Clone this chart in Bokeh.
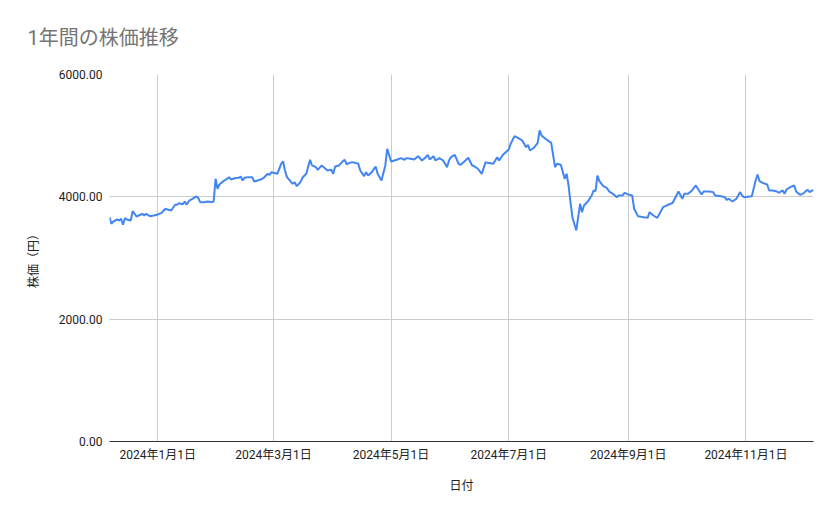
import pandas as pd
from bokeh.plotting import figure
from bokeh.models import ColumnDataSource, FixedTicker, PrintfTickFormatter, Range1d
from bokeh.embed import file_html
from bokeh.resources import INLINE

TITLE = "1年間の株価推移"
X_LABEL = "日付"
Y_LABEL = "株価（円）"

DATES = [
    "2023-12-07", "2023-12-08", "2023-12-09", "2023-12-10", "2023-12-11", "2023-12-12",
    "2023-12-13", "2023-12-14", "2023-12-15", "2023-12-16", "2023-12-18", "2023-12-19",
    "2023-12-21", "2023-12-23", "2023-12-24", "2023-12-25", "2023-12-26", "2023-12-28",
    "2023-12-30", "2024-01-01", "2024-01-03", "2024-01-05", "2024-01-06", "2024-01-08",
    "2024-01-10", "2024-01-11", "2024-01-12", "2024-01-14", "2024-01-15", "2024-01-16",
    "2024-01-17", "2024-01-18", "2024-01-19", "2024-01-21", "2024-01-22", "2024-01-23",
    "2024-01-25", "2024-01-27", "2024-01-29", "2024-01-30", "2024-01-31", "2024-02-01",
    "2024-02-02", "2024-02-04", "2024-02-06", "2024-02-07", "2024-02-08", "2024-02-10",
    "2024-02-12", "2024-02-13", "2024-02-14", "2024-02-15", "2024-02-17", "2024-02-19",
    "2024-02-20", "2024-02-23", "2024-02-25", "2024-02-27", "2024-02-28", "2024-02-29",
    "2024-03-01", "2024-03-03", "2024-03-05", "2024-03-06", "2024-03-07", "2024-03-08",
    "2024-03-11", "2024-03-12", "2024-03-13", "2024-03-15", "2024-03-16", "2024-03-18",
    "2024-03-20", "2024-03-21", "2024-03-23", "2024-03-24", "2024-03-26", "2024-03-28",
    "2024-03-29", "2024-03-31", "2024-04-01", "2024-04-02", "2024-04-04", "2024-04-06",
    "2024-04-07", "2024-04-08", "2024-04-09", "2024-04-11", "2024-04-14", "2024-04-15",
    "2024-04-17", "2024-04-18", "2024-04-19", "2024-04-21", "2024-04-23", "2024-04-24",
    "2024-04-26", "2024-04-28", "2024-04-29", "2024-05-01", "2024-05-04", "2024-05-06",
    "2024-05-08", "2024-05-09", "2024-05-11", "2024-05-13", "2024-05-15", "2024-05-17",
    "2024-05-19", "2024-05-20", "2024-05-21", "2024-05-23", "2024-05-24", "2024-05-26",
    "2024-05-28", "2024-05-30", "2024-05-31", "2024-06-01", "2024-06-03", "2024-06-05",
    "2024-06-06", "2024-06-08", "2024-06-10", "2024-06-12", "2024-06-13", "2024-06-15",
    "2024-06-17", "2024-06-19", "2024-06-20", "2024-06-23", "2024-06-25", "2024-06-26",
    "2024-06-28", "2024-07-01", "2024-07-02", "2024-07-04", "2024-07-06", "2024-07-08",
    "2024-07-10", "2024-07-11", "2024-07-12", "2024-07-14", "2024-07-16", "2024-07-17",
    "2024-07-18", "2024-07-20", "2024-07-23", "2024-07-25", "2024-07-26", "2024-07-28",
    "2024-07-30", "2024-07-31", "2024-08-01", "2024-08-02", "2024-08-03", "2024-08-05",
    "2024-08-06", "2024-08-07", "2024-08-08", "2024-08-09", "2024-08-11", "2024-08-13",
    "2024-08-14", "2024-08-15", "2024-08-16", "2024-08-17", "2024-08-19", "2024-08-21",
    "2024-08-22", "2024-08-24", "2024-08-26", "2024-08-27", "2024-08-29", "2024-08-30",
    "2024-09-01", "2024-09-03", "2024-09-04", "2024-09-06", "2024-09-09", "2024-09-11",
    "2024-09-12", "2024-09-14", "2024-09-16", "2024-09-19", "2024-09-21", "2024-09-22",
    "2024-09-24", "2024-09-27", "2024-09-29", "2024-09-30", "2024-10-02", "2024-10-04",
    "2024-10-06", "2024-10-09", "2024-10-10", "2024-10-13", "2024-10-15", "2024-10-16",
    "2024-10-19", "2024-10-21", "2024-10-22", "2024-10-23", "2024-10-25", "2024-10-27",
    "2024-10-29", "2024-10-30", "2024-10-31", "2024-11-04", "2024-11-06", "2024-11-07",
    "2024-11-08", "2024-11-10", "2024-11-12", "2024-11-13", "2024-11-15", "2024-11-17",
    "2024-11-18", "2024-11-20", "2024-11-21", "2024-11-22", "2024-11-24", "2024-11-26",
    "2024-11-27", "2024-11-29", "2024-12-01", "2024-12-02", "2024-12-03", "2024-12-04",
    "2024-12-06",
]

PRICES = [
    3667, 3559, 3597, 3613, 3630, 3613,
    3641, 3543, 3651, 3630, 3613, 3765,
    3679, 3707, 3723, 3695, 3723, 3684,
    3695, 3712, 3739, 3805, 3793, 3777,
    3870, 3870, 3896, 3880, 3924, 3870,
    3924, 3951, 3968, 4006, 3984, 3913,
    3913, 3924, 3913, 3924, 4295, 4132,
    4202, 4256, 4295, 4322, 4284, 4305,
    4311, 4333, 4267, 4311, 4322, 4322,
    4251, 4279, 4311, 4377, 4360, 4404,
    4393, 4377, 4540, 4578, 4431, 4322,
    4213, 4240, 4174, 4240, 4311, 4377,
    4606, 4513, 4485, 4442, 4513, 4459,
    4431, 4442, 4377, 4496, 4513, 4583,
    4606, 4529, 4551, 4567, 4540, 4431,
    4338, 4404, 4349, 4404, 4496, 4377,
    4267, 4513, 4786, 4578, 4606, 4633,
    4606, 4633, 4622, 4611, 4665, 4594,
    4649, 4687, 4611, 4665, 4594, 4633,
    4594, 4485, 4594, 4649, 4687, 4540,
    4524, 4578, 4638, 4513, 4502, 4459,
    4377, 4567, 4556, 4540, 4649, 4594,
    4687, 4774, 4867, 4992, 4959, 4921,
    4812, 4851, 4758, 4802, 4883, 5085,
    5003, 4949, 4883, 4485, 4540, 4524,
    4295, 4377, 4186, 3913, 3667, 3450,
    3667, 3886, 3749, 3859, 3924, 4022,
    4104, 4093, 4349, 4256, 4174, 4142,
    4088, 4050, 3995, 4022, 4022, 4066,
    4039, 4022, 3805, 3684, 3667, 3656,
    3749, 3695, 3656, 3831, 3859, 3875,
    3902, 4088, 3968, 4050, 4050, 4104,
    4186, 4039, 4088, 4088, 4077, 4022,
    4011, 3995, 3951, 3968, 3924, 3968,
    4077, 4022, 3995, 4011, 4267, 4365,
    4256, 4224, 4202, 4104, 4104, 4088,
    4066, 4104, 4050, 4120, 4158, 4186,
    4088, 4033, 4060, 4093, 4115, 4077,
    4115,
]

X_TICK_DATES = ["2024-01-01", "2024-03-01", "2024-05-01", "2024-07-01", "2024-09-01", "2024-11-01"]
X_TICK_LABELS = ["2024年1月1日", "2024年3月1日", "2024年5月1日", "2024年7月1日", "2024年9月1日", "2024年11月1日"]
Y_TICKS = [0, 2000, 4000, 6000]
Y_MIN, Y_MAX = 0, 6000

FONT = "Roboto, Noto Sans CJK JP"

dates = pd.to_datetime(DATES)
src = ColumnDataSource(dict(date=dates, price=PRICES))
tick_ms = [int(pd.Timestamp(d).value // 10**6) for d in X_TICK_DATES]

p = figure(
    width=831, height=511,
    x_axis_type="datetime",
    x_range=Range1d(dates[0], dates[-1]),
    y_range=Range1d(Y_MIN, Y_MAX),
    output_backend="svg", toolbar_location=None,
    min_border_left=109, min_border_right=18,
    min_border_top=74, min_border_bottom=70,
)
p.outline_line_color = None
p.background_fill_color = "white"
p.border_fill_color = "white"

p.title.text = TITLE
p.title.text_font = FONT
p.title.text_font_size = "20px"
p.title.text_font_style = "normal"
p.title.text_color = "#757575"
p.title.align = "left"
p.title.vertical_align = "top"
p.title.offset = -82
p.title.standoff = 46

p.line(x="date", y="price", source=src, line_color="#4285F4", line_width=2)

xa = p.xaxis[0]
xa.ticker = FixedTicker(ticks=tick_ms)
xa.major_label_overrides = {t: lab for t, lab in zip(tick_ms, X_TICK_LABELS)}
xa.axis_line_color = "#333333"
xa.axis_line_width = 1
xa.major_tick_line_color = None
xa.minor_tick_line_color = None
xa.major_tick_out = 0
xa.major_tick_in = 0
xa.minor_tick_out = 0
xa.major_label_standoff = 6
xa.major_label_text_font = FONT
xa.major_label_text_font_size = "12px"
xa.major_label_text_color = "#222222"
xa.axis_label = X_LABEL
xa.axis_label_text_font = FONT
xa.axis_label_text_font_size = "12px"
xa.axis_label_text_font_style = "normal"
xa.axis_label_text_color = "#222222"
xa.axis_label_standoff = 14

ya = p.yaxis[0]
ya.ticker = FixedTicker(ticks=Y_TICKS)
ya.formatter = PrintfTickFormatter(format="%.2f")
ya.axis_line_color = None
ya.major_tick_line_color = None
ya.minor_tick_line_color = None
ya.major_tick_out = 0
ya.major_tick_in = 0
ya.minor_tick_out = 0
ya.major_label_standoff = 7
ya.major_label_text_font = FONT
ya.major_label_text_font_size = "12px"
ya.major_label_text_color = "#222222"
ya.axis_label = Y_LABEL
ya.axis_label_text_font = FONT
ya.axis_label_text_font_size = "12px"
ya.axis_label_text_font_style = "normal"
ya.axis_label_text_color = "#222222"
ya.axis_label_standoff = 15

for g in (p.xgrid[0], p.ygrid[0]):
    g.grid_line_color = "#cccccc"
    g.grid_line_width = 1
    g.grid_line_alpha = 1.0

open("out.html", "w").write(file_html(p, INLINE))
